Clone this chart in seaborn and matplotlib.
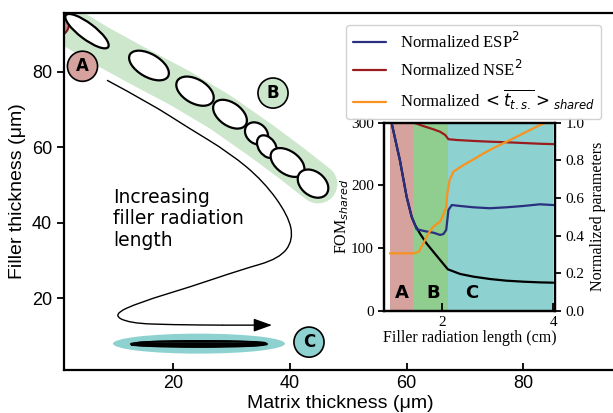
import numpy as np
import matplotlib
matplotlib.use('Agg')
import matplotlib.pyplot as plt
import seaborn as sns
from matplotlib.patches import Ellipse, PathPatch
from matplotlib.path import Path
from matplotlib.transforms import ScaledTranslation

# ---- inset data ----
fom_x = [1.07, 1.10, 1.25, 1.37, 1.46, 1.52, 1.61, 1.73, 1.85, 1.97, 2.11, 2.33, 2.57, 2.87, 3.16, 3.46, 3.76, 4.00]
fom_y = [330, 300, 240, 182, 150, 137, 123, 107, 94, 81, 66, 58.6, 54.3, 50.5, 47.9, 46.3, 45.2, 44.7]

esp_x = [1.07, 1.10, 1.25, 1.37, 1.46, 1.52, 1.55, 1.73, 1.85, 1.97, 2.03, 2.08, 2.12, 2.18, 2.33, 2.57, 2.86, 3.16, 3.46, 3.76, 4.00]
esp_y = [1.10, 1.00, 0.80, 0.607, 0.50, 0.456, 0.433, 0.421, 0.415, 0.403, 0.408, 0.43, 0.536, 0.562, 0.557, 0.55, 0.545, 0.55, 0.557, 0.566, 0.562]

nse_x = [1.07, 1.30, 1.50, 1.67, 1.85, 1.97, 2.06, 2.12, 2.27, 2.57, 2.86, 3.16, 3.46, 3.76, 4.00]
nse_y = [1.05, 1.02, 1.00, 0.982, 0.965, 0.952, 0.935, 0.912, 0.908, 0.903, 0.899, 0.896, 0.892, 0.888, 0.886]

ts_x = [1.07, 1.30, 1.50, 1.59, 1.67, 1.76, 1.85, 1.97, 2.04, 2.08, 2.10, 2.14, 2.21, 2.39, 2.57, 2.75, 2.92, 3.16, 3.34, 3.52, 3.76, 3.88, 4.00]
ts_y = [0.305, 0.305, 0.305, 0.314, 0.358, 0.411, 0.447, 0.474, 0.518, 0.553, 0.624, 0.695, 0.74, 0.775, 0.805, 0.837, 0.864, 0.899, 0.925, 0.952, 0.988, 1.0, 1.0]

regions = ['A', 'B', 'C']
region_start = [1.07, 1.49, 2.11]
region_end = [1.49, 2.11, 4.00]
region_colors = ['#d6a29e', '#8fce8f', '#8ed1d1']
region_label_x = [1.28, 1.84, 2.54]

# ---- main panel data ----
band_x = [2.64, 7.44, 14.30, 21.16, 28.01, 34.87, 40.01, 44.81]
band_y = [91.6, 87.1, 81.3, 75.7, 69.4, 62.0, 56.1, 50.3]

# ellipse centres (data), sizes in pixels, angle in degrees
ell_x = [5.21, 15.84, 23.73, 29.73, 34.27, 36.07, 39.59, 43.96]
ell_y = [90.8, 81.7, 74.9, 68.8, 63.7, 60.2, 56.0, 50.4]
ell_w = [53, 44, 41, 38, 25, 25, 38, 34]
ell_h = [16, 23, 24, 23, 20, 17, 23, 24]
ell_ang = [-37, -30, -30, -35, -40, -55, -35, -38]

# arrow path: start, control points, end
arrow_x = [8.64, 16.01, 22.36, 29.73, 35.50, 39.70, 40.60, 38.20, 31.44, 22.87, 14.30, 9.60, 12.50, 20.00, 28.53, 36.93]
arrow_y = [77.8, 71.7, 65.4, 58.5, 51.00, 42.00, 35.50, 30.50, 27.50, 23.00, 19.00, 15.70, 13.40, 13.00, 12.90, 12.90]

marker_x = [4.44, 37.10, 43.27]
marker_y = [81.5, 74.4, 8.4]
marker_colors = ['#d6a29e', '#cde7cd', '#8ed1d1']

sns.set_style('ticks')
plt.rcParams['font.family'] = ['Liberation Sans', 'DejaVu Sans']
plt.rcParams['mathtext.fontset'] = 'dejavusans'
for k in ['text.color', 'axes.labelcolor', 'xtick.color', 'ytick.color', 'axes.edgecolor']:
    plt.rcParams[k] = 'black'

fig = plt.figure(figsize=(6.13, 4.13), dpi=100)
ax = fig.add_axes([0.1044, 0.104, 0.9005, 0.8644])


def px_ellipse(x, y, w, h, ang, **kw):
    # ellipse sized in pixels, centred at a data point
    e = Ellipse((0, 0), w / 100, h / 100, angle=ang, **kw)
    e.set_transform(fig.dpi_scale_trans + ScaledTranslation(x, y, ax.transData))
    ax.add_patch(e)


ax.set_xlim(1.27, 95.9)
ax.set_ylim(1.0, 95.6)

# green band behind region B ellipses
ax.plot(band_x, band_y, color='#cde7cd', lw=28, solid_capstyle='round',
        solid_joinstyle='round', zorder=1)
# clipped red ellipse in the corner (region A)
px_ellipse(-0.27, 92.7, 28, 26, 0, facecolor='#c98a85', edgecolor='#7a1515', lw=1.5, zorder=2)
for x, y, w, h, a in zip(ell_x, ell_y, ell_w, ell_h, ell_ang):
    px_ellipse(x, y, w, h, a, facecolor='white', edgecolor='black', lw=1.6, zorder=3)

# region C: cyan band with flattened ellipses
px_ellipse(24.41, 8.0, 172, 20, 0, facecolor='#8ed1d1', edgecolor='none', zorder=1)
for dx, dy, w, h in zip([0.0, 0.4, -0.3, 0.2], [0.0, 0.25, -0.2, 0.0], [136, 128, 132, 120], [6, 4, 3, 1.5]):
    px_ellipse(24.41 + dx, 7.9 + dy, w, h, 0, facecolor='none', edgecolor='black', lw=1.3, zorder=3)

# smooth arrow: quadratic bezier chain through midpoints
pts = list(zip(arrow_x[:-1], arrow_y[:-1]))
verts = [pts[0]]
codes = [Path.MOVETO]
for i in range(1, len(pts) - 1):
    mid = ((pts[i][0] + pts[i + 1][0]) / 2, (pts[i][1] + pts[i + 1][1]) / 2)
    verts += [pts[i], mid]
    codes += [Path.CURVE3, Path.CURVE3]
verts.append(pts[-1])
codes.append(Path.LINETO)
ax.add_patch(PathPatch(Path(verts, codes), facecolor='none', edgecolor='black', lw=1.0, zorder=2))
ax.annotate('', xy=(arrow_x[-1], arrow_y[-1]), xytext=(arrow_x[-2], arrow_y[-2]),
            arrowprops=dict(arrowstyle='-|>,head_length=0.7,head_width=0.25',
                            color='black', lw=1.0, mutation_scale=16, shrinkA=0, shrinkB=0))
ax.text(9.7, 49.2, 'Increasing\nfiller radiation\nlength', fontsize=13.5,
        family='DejaVu Sans', ha='left', va='top', linespacing=1.15)

sns.scatterplot(x=marker_x, y=marker_y, hue=regions, palette=marker_colors, s=470,
                edgecolor='black', linewidth=1.2, legend=False, ax=ax, zorder=4)
for x, y, t in zip(marker_x, marker_y, regions):
    ax.text(x, y, t, ha='center', va='center', fontsize=12, fontweight='bold',
            family='DejaVu Sans', zorder=5)

ax.set_xticks([20, 40, 60, 80])
ax.set_yticks([20, 40, 60, 80])
ax.tick_params(axis='x', direction='in', length=5, width=1.3, labelsize=13)
ax.tick_params(axis='y', direction='out', length=5, width=1.3, labelsize=13)
ax.set_xlabel('Matrix thickness (μm)', fontsize=14, labelpad=2)
ax.set_ylabel('Filler thickness (μm)', fontsize=14, labelpad=4)
for s in ax.spines.values():
    s.set_linewidth(1.6)
ax.spines['right'].set_visible(False)

# ---- inset ----
serif = 'Liberation Serif'
ax_in = fig.add_axes([0.6269, 0.2477, 0.2785, 0.4552])
for s0, s1, c in zip(region_start, region_end, region_colors):
    ax_in.axvspan(s0, s1, color=c, lw=0, zorder=0)
for x, t in zip(region_label_x, regions):
    ax_in.text(x, 28, t, ha='center', va='center', fontsize=13, fontweight='bold',
               family='DejaVu Sans')
sns.lineplot(x=fom_x, y=fom_y, color='black', lw=1.6, ax=ax_in)
ax_in.set_xlim(0.97, 4.03)
ax_in.set_ylim(0, 300)
ax_in.set_xticks([2, 4])
ax_in.set_yticks([0, 100, 200, 300])
ax_in.tick_params(axis='x', direction='in', length=6, width=1.3, labelsize=11)
ax_in.tick_params(axis='y', direction='out', length=4, width=1.3, labelsize=11)
for lab in ax_in.get_xticklabels() + ax_in.get_yticklabels():
    lab.set_family(serif)
ax_in.set_xlabel('Filler radiation length (cm)', fontsize=11.5, family=serif, labelpad=1)
ax_in.set_ylabel('FOM$_{shared}$', fontsize=11.5, family=serif, labelpad=0)

ax_r = ax_in.twinx()
sns.lineplot(x=esp_x, y=esp_y, color='#2b2f80', lw=1.6, ax=ax_r, label='Normalized ESP$^2$')
sns.lineplot(x=nse_x, y=nse_y, color='#9b1c1f', lw=1.6, ax=ax_r, label='Normalized NSE$^2$')
sns.lineplot(x=ts_x, y=ts_y, color='#f7931e', lw=1.6, ax=ax_r,
             label=r'Normalized $<\overline{t_{t.s.}}>_{shared}$')
ax_r.set_ylim(0, 1.0)
ax_r.set_yticks([0.0, 0.2, 0.4, 0.6, 0.8, 1.0])
ax_r.set_yticklabels(['0.0', '0.2', '0.4', '0.6', '0.8', '1.0'])
ax_r.tick_params(axis='y', direction='out', length=4, width=1.3, labelsize=11)
for lab in ax_r.get_yticklabels():
    lab.set_family(serif)
ax_r.set_ylabel('Normalized parameters', fontsize=11.5, family=serif)
handles, labels = ax_r.get_legend_handles_labels()
ax_r.get_legend().remove()
for a in (ax_in, ax_r):
    for s in a.spines.values():
        s.set_linewidth(1.6)

fig.legend(handles, labels, loc='upper right', bbox_to_anchor=(0.981, 0.94),
           borderaxespad=0, prop={'family': serif, 'size': 12},
           edgecolor='#cccccc', framealpha=0.9)

fig.savefig('out.png', dpi=100)
